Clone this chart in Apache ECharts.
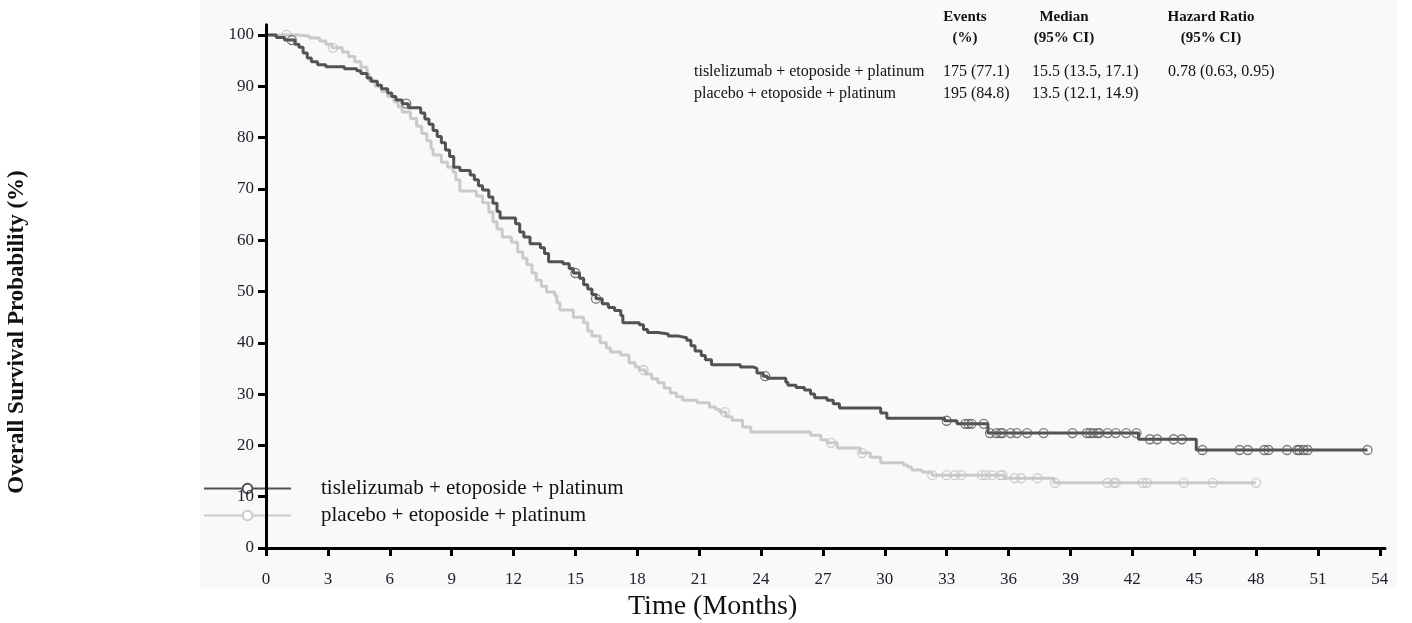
<!DOCTYPE html>
<html>
<head>
<meta charset="utf-8">
<script src="https://cdn.jsdelivr.net/npm/echarts@6/dist/echarts.min.js"></script>
<style>
  html, body { margin: 0; padding: 0; background: #ffffff; }
  #wrap { position: relative; width: 1412px; height: 623px; }
  #panel { position: absolute; left: 200px; top: 0; width: 1197px; height: 588px; background: #f9f9f9; }
  #chart { position: absolute; left: 0; top: 0; width: 1412px; height: 623px; }
</style>
</head>
<body>
<div id="wrap"><div id="panel"></div><div id="chart"></div></div>
<script>
// Arm labels
const armNames = ['tislelizumab + etoposide + platinum', 'placebo + etoposide + platinum'];

// Kaplan-Meier step points: time (months) and survival (%) after each drop
const tisTime = [0, 0.5, 0.9, 1.4, 1.6, 1.8, 2.0, 2.2, 2.5, 2.9, 3.8, 4.4, 4.6, 4.9, 5.1, 5.4, 5.6, 5.9, 6.1, 6.3, 6.6, 6.9, 7.5, 7.7, 7.9, 8.1, 8.3, 8.5, 8.7, 8.9, 9.1, 9.4, 9.9, 10.1, 10.3, 10.5, 10.8, 11.0, 11.2, 11.35, 12.1, 12.3, 12.5, 12.8, 13.3, 13.5, 13.7, 14.4, 14.7, 14.9, 15.2, 15.4, 15.6, 15.8, 16.0, 16.3, 16.6, 16.9, 17.2, 17.3, 18.1, 18.3, 18.5, 19.0, 19.5, 20.0, 20.4, 20.6, 20.8, 21.1, 21.3, 21.6, 23.0, 23.6, 23.8, 24.1, 24.3, 25.2, 25.3, 25.7, 26.1, 26.4, 26.6, 27.2, 27.5, 27.8, 29.8, 30.1, 32.9, 33.5, 35.0, 42.3, 45.1, 53.4];
const tisSurv = [100, 99.5, 99.0, 98.2, 97.6, 96.5, 95.5, 94.8, 94.2, 93.8, 93.4, 93.0, 92.5, 91.6, 91.0, 90.2, 89.5, 88.7, 88.0, 87.3, 86.6, 85.8, 84.8, 83.6, 82.6, 81.4, 80.2, 79.0, 77.6, 76.3, 74.2, 73.6, 72.7, 71.8, 70.6, 69.8, 68.4, 67.2, 65.6, 64.3, 63.2, 61.6, 60.6, 59.3, 58.5, 57.4, 55.8, 55.4, 54.5, 53.6, 52.6, 51.3, 50.5, 49.4, 48.6, 47.6, 46.9, 46.3, 45.3, 43.9, 43.5, 42.6, 42.0, 41.7, 41.3, 41.0, 40.5, 39.4, 38.4, 37.5, 36.7, 35.7, 35.3, 35.0, 34.1, 33.5, 33.1, 32.3, 31.7, 31.3, 30.8, 30.0, 29.3, 28.8, 28.1, 27.3, 26.3, 25.3, 24.8, 24.2, 22.4, 21.2, 19.1, 19.1];

const plaTime = [0, 1.5, 2.1, 2.6, 2.9, 3.2, 3.7, 4.0, 4.3, 4.6, 4.9, 5.0, 5.3, 5.6, 5.9, 6.2, 6.4, 6.6, 7.0, 7.3, 7.55, 7.8, 8.0, 8.1, 8.5, 8.8, 9.06, 9.2, 9.4, 10.2, 10.5, 10.8, 11.0, 11.2, 11.45, 11.9, 12.2, 12.45, 12.65, 12.9, 13.1, 13.35, 13.6, 14.0, 14.1, 14.25, 14.9, 15.4, 15.6, 15.8, 16.2, 16.5, 16.7, 17.2, 17.6, 17.9, 18.1, 18.4, 18.7, 19.0, 19.3, 19.6, 19.9, 20.2, 20.9, 21.5, 21.8, 22.0, 22.3, 22.6, 23.1, 23.5, 26.4, 26.9, 27.2, 27.7, 28.8, 29.3, 29.8, 30.9, 31.1, 31.3, 31.8, 32.1, 32.3, 35.8, 38.2, 48.0];
const plaSurv = [100, 99.8, 99.4, 98.8, 98.2, 97.5, 96.7, 95.8, 94.8, 93.7, 92.4, 91.0, 90.0, 89.0, 88.0, 87.0, 86.0, 85.0, 83.7, 82.2, 80.8, 79.4, 77.8, 76.6, 75.2, 74.2, 73.3, 71.8, 69.6, 68.6, 67.3, 65.5, 63.6, 62.2, 60.6, 59.6, 57.7, 56.5, 55.2, 53.6, 52.2, 51.0, 49.9, 49.2, 47.8, 46.4, 45.0, 43.9, 42.3, 41.3, 40.0, 39.0, 38.2, 37.6, 36.1, 35.3, 34.7, 33.9, 33.0, 32.2, 31.2, 30.2, 29.5, 28.8, 28.3, 27.5, 27.0, 26.5, 25.6, 24.9, 23.6, 22.6, 22.0, 21.1, 20.5, 19.5, 18.5, 17.7, 16.6, 16.2, 15.8, 15.2, 14.8, 14.6, 14.2, 13.6, 12.7, 12.7];

// Censoring times (months)
const tisCensor = [1.25, 6.8, 15.0, 16.0, 24.2, 33.0, 33.9, 34.05, 34.2, 34.8, 35.1, 35.4, 35.6, 35.7, 36.1, 36.4, 36.9, 37.7, 39.1, 39.8, 39.95, 40.1, 40.3, 40.4, 40.8, 41.2, 41.7, 42.2, 42.85, 43.2, 44.0, 44.4, 45.4, 47.2, 47.6, 48.4, 48.6, 49.5, 50.0, 50.1, 50.3, 50.5, 53.4];
const plaCensor = [1.0, 3.25, 18.3, 22.25, 27.4, 28.9, 32.3, 33.0, 33.4, 33.7, 34.7, 34.9, 35.2, 35.6, 35.7, 36.3, 36.6, 37.4, 38.25, 40.8, 41.1, 41.2, 42.5, 42.7, 44.5, 45.9, 48.0];

// Axis ticks
const xTicks = [0, 3, 6, 9, 12, 15, 18, 21, 24, 27, 30, 33, 36, 39, 42, 45, 48, 51, 54];
const yTicks = [0, 10, 20, 30, 40, 50, 60, 70, 80, 90, 100];

// Summary table
const tableHeaders = [['Events', '(%)'], ['Median', '(95% CI)'], ['Hazard Ratio', '(95% CI)']];
const tisStats = ['175 (77.1)', '15.5 (13.5, 17.1)', '0.78 (0.63, 0.95)'];
const plaStats = ['195 (84.8)', '13.5 (12.1, 14.9)'];

const SERIF = '"Liberation Serif", "Times New Roman", serif';
const DARK = '#525252';
const LIGHT = '#cacaca';

function pairs(t, s) { return t.map((v, i) => [v, s[i]]); }
function survivalAt(t, s, x) {
  let v = s[0];
  for (let i = 0; i < t.length; i++) { if (t[i] <= x) v = s[i]; else break; }
  return v;
}

const headerX = [965, 1064, 1211];
const statX = [943, 1032, 1168];
const graphics = [];
tableHeaders.forEach((h, i) => {
  h.forEach((line, j) => {
    graphics.push({ type: 'text', x: headerX[i], y: 17 + j * 21,
      style: { text: line, font: 'bold 15px ' + SERIF, fill: '#111', align: 'center', verticalAlign: 'middle' } });
  });
});
[[armNames[0], tisStats], [armNames[1], plaStats]].forEach((row, r) => {
  const y = 72 + r * 22;
  graphics.push({ type: 'text', x: 694, y: y,
    style: { text: row[0], font: '16px ' + SERIF, fill: '#111', align: 'left', verticalAlign: 'middle' } });
  row[1].forEach((s, c) => {
    graphics.push({ type: 'text', x: statX[c], y: y,
      style: { text: s, font: '16px ' + SERIF, fill: '#111', align: 'left', verticalAlign: 'middle' } });
  });
});
graphics.push({ type: 'text', x: 628, y: 607,
  style: { text: 'Time (Months)', font: '28px ' + SERIF, fill: '#111', align: 'left', verticalAlign: 'middle' } });
graphics.push({ type: 'text', x: 17, y: 332, rotation: Math.PI / 2,
  style: { text: 'Overall Survival Probability (%)', font: 'bold 23px ' + SERIF, fill: '#111', align: 'center', verticalAlign: 'middle' } });

const chart = echarts.init(document.getElementById('chart'), null, { renderer: 'canvas' });
chart.setOption({
  backgroundColor: 'transparent',
  animation: false,
  grid: { left: 266, right: 27, top: 24.7, bottom: 75, containLabel: false },
  xAxis: {
    type: 'value', min: 0, max: 54.25, z: 5,
    axisLine: { lineStyle: { color: '#000', width: 3 } },
    axisTick: { show: true, length: 8, customValues: xTicks, lineStyle: { color: '#000', width: 3 } },
    axisLabel: { customValues: xTicks, margin: 23, fontSize: 17, fontFamily: SERIF, color: '#1e1e2a' },
    splitLine: { show: false }
  },
  yAxis: {
    type: 'value', min: 0, max: 102, z: 5,
    axisLine: { show: true, lineStyle: { color: '#000', width: 3 } },
    axisTick: { show: true, length: 8, customValues: yTicks, lineStyle: { color: '#000', width: 3 } },
    axisLabel: { customValues: yTicks, margin: 12, fontSize: 17, fontFamily: SERIF, color: '#1e1e2a' },
    splitLine: { show: false }
  },
  legend: {
    orient: 'vertical', left: 203, top: 478, padding: 0, z: 1,
    itemWidth: 87, itemHeight: 12, itemGap: 6, selectedMode: false,
    data: armNames,
    textStyle: { fontFamily: SERIF, fontSize: 21, color: '#111', padding: [0, 0, 0, 25] }
  },
  graphic: { elements: graphics },
  series: [
    {
      name: armNames[1], type: 'line', step: 'end', data: pairs(plaTime, plaSurv),
      showSymbol: false, symbol: 'emptyCircle', symbolSize: 10,
      lineStyle: { color: LIGHT, width: 3 }, itemStyle: { color: LIGHT }, z: 2
    },
    {
      type: 'scatter', data: plaCensor.map(t => [t, survivalAt(plaTime, plaSurv, t)]),
      symbol: 'circle', symbolSize: 9,
      itemStyle: { color: 'rgba(0,0,0,0)', borderColor: '#c2c2c2', borderWidth: 1.3 }, z: 2
    },
    {
      name: armNames[0], type: 'line', step: 'end', data: pairs(tisTime, tisSurv),
      showSymbol: false, symbol: 'emptyCircle', symbolSize: 10,
      lineStyle: { color: DARK, width: 3 }, itemStyle: { color: DARK }, z: 3
    },
    {
      type: 'scatter', data: tisCensor.map(t => [t, survivalAt(tisTime, tisSurv, t)]),
      symbol: 'circle', symbolSize: 9,
      itemStyle: { color: 'rgba(0,0,0,0)', borderColor: '#5a5a5a', borderWidth: 1.3 }, z: 3
    }
  ]
});
</script>
</body>
</html>
